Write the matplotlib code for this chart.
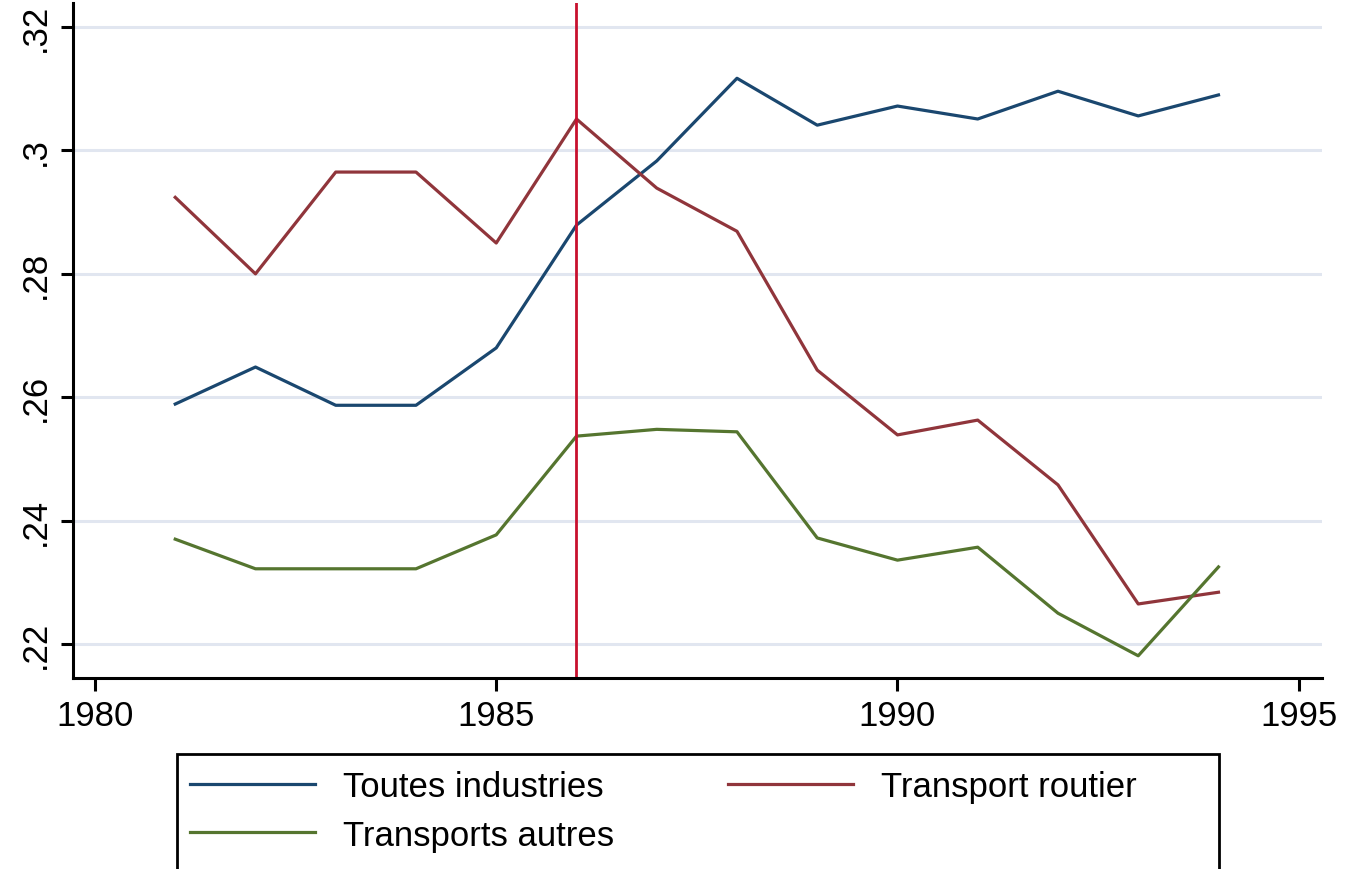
import matplotlib
matplotlib.use("Agg")
import matplotlib.pyplot as plt
from matplotlib.patches import Rectangle

plt.rcParams['font.family'] = ['Liberation Sans', 'DejaVu Sans']

years = [1981, 1982, 1983, 1984, 1985, 1986, 1987, 1988, 1989, 1990, 1991, 1992, 1993, 1994]
toutes = [.2589, .2649, .2587, .2587, .2680, .2879, .2983, .3117, .3041, .3072, .3051, .3096, .3056, .3090]
routier = [.2924, .2800, .2965, .2965, .2850, .3051, .2939, .2869, .2644, .2539, .2563, .2458, .2265, .2284]
autres = [.2370, .2322, .2322, .2322, .2377, .2537, .2548, .2544, .2372, .2336, .2357, .2250, .2181, .2325]
labels = ['Toutes industries', 'Transport routier', 'Transports autres']
event_year = 1986
yticks = [.22, .24, .26, .28, .30, .32]
yticklabels = ['.22', '.24', '.26', '.28', '.3', '.32']
xticks = [1980, 1985, 1990, 1995]

W, H = 1348, 870
fig = plt.figure(figsize=(W / 100, H / 100), dpi=100)
ax = fig.add_axes([73 / W, 1 - 679 / H, (1322 - 73) / W, (679 - 4) / H])

for t in yticks:
    ax.axhline(t, color='#e1e6f0', lw=2.2, zorder=0)

l1, = ax.plot(years, toutes, color='#1a476f', lw=2.3, label=labels[0])
l2, = ax.plot(years, routier, color='#90353b', lw=2.3, label=labels[1])
l3, = ax.plot(years, autres, color='#55752f', lw=2.3, label=labels[2])
ax.axvline(event_year, color='#c8102e', lw=2.0)

ax.set_xlim(1979.726, 1995.29)
ax.set_ylim(0.2145, 0.3239)
ax.set_xticks(xticks)
ax.set_yticks(yticks)
ax.set_yticklabels(yticklabels, rotation=90, va='center')
ax.tick_params(labelsize=25, width=2.2, length=9, pad=6, direction='out')

for s in ['top', 'right']:
    ax.spines[s].set_visible(False)
for s in ['left', 'bottom']:
    ax.spines[s].set_linewidth(2.2)

# legend frame runs past the bottom edge of the picture
fig.patches.append(Rectangle((177 / W, -0.05), (1219 - 177) / W, 0.05 + 1 - 755 / H,
                             transform=fig.transFigure, fill=False, edgecolor='black', lw=2))
# ncol=2 fills by column, so order gives rows: Toutes | Routier, then Autres
fig.legend([l1, l3, l2], [labels[0], labels[2], labels[1]], loc='upper left', ncol=2,
           frameon=False, bbox_to_anchor=(190 / W, 1 - 771 / H),
           fontsize=25, handlelength=3.6, handletextpad=0.8, columnspacing=3.3,
           labelspacing=0.45, borderaxespad=0, borderpad=0)

fig.savefig('out.png', dpi=100)
